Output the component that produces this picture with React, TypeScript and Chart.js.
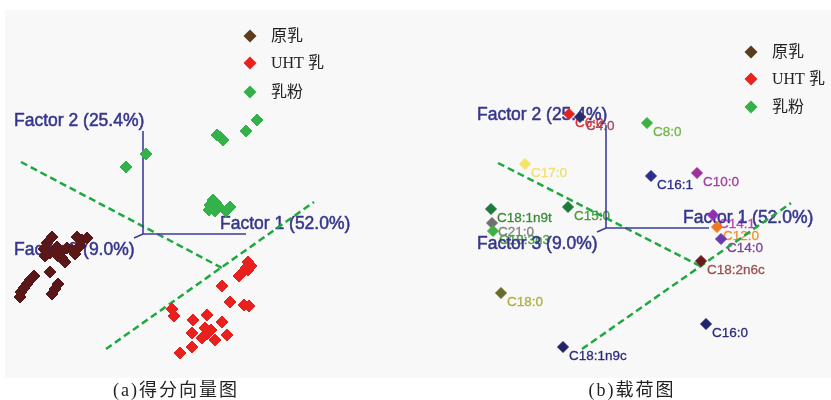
import React, { useEffect, useRef } from 'react';
import { Chart, registerables } from 'chart.js';

Chart.register(...registerables);

type P = [number, number];

// ---------- (a) score plot ----------
const rawMilk: P[] = [
  [-0.91, -0.03], [-0.96, -0.09], [-0.99, -0.15], [-0.93, -0.19], [-0.86, -0.13],
  [-0.82, -0.18], [-0.76, -0.14], [-0.85, -0.22], [-0.66, -0.03], [-0.61, -0.06],
  [-0.56, -0.04], [-0.63, -0.12], [-0.71, -0.16], [-0.68, -0.2], [-0.78, -0.28],
  [-0.93, -0.38], [-1.09, -0.42], [-1.13, -0.46], [-1.16, -0.5], [-1.19, -0.54],
  [-1.22, -0.58], [-1.23, -0.63], [-0.85, -0.5], [-0.88, -0.55], [-0.91, -0.6],
  [-0.81, -0.24], [-0.98, -0.22],
];
const uhtMilk: P[] = [
  [1.05, -0.28], [1.08, -0.32], [1.03, -0.34], [1.0, -0.38], [0.96, -0.42],
  [1.05, -0.36], [0.79, -0.52], [0.87, -0.68], [1.01, -0.71], [1.06, -0.72],
  [0.29, -0.75], [0.31, -0.82], [0.5, -0.86], [0.64, -0.81], [0.79, -0.88],
  [0.62, -0.94], [0.49, -0.99], [0.64, -1.0], [0.59, -1.04], [0.72, -1.06],
  [0.84, -1.01], [0.49, -1.13], [0.37, -1.19], [0.68, -0.96],
];
const milkPowder: P[] = [
  [1.14, 1.14], [1.03, 1.03], [0.74, 0.99], [0.77, 0.97], [0.8, 0.94],
  [0.03, 0.8], [-0.17, 0.67], [0.7, 0.34], [0.67, 0.29], [0.73, 0.31],
  [0.69, 0.26], [0.72, 0.23], [0.76, 0.27], [0.87, 0.27], [0.83, 0.23], [0.66, 0.24],
];
const scoreColors = ['#5a1717', '#e8201e', '#35b14a'];
const scoreDividerA: P[] = [[-1.22, 0.72], [0.79, -0.34]];
const scoreDividerB: P[] = [[-0.37, -1.15], [1.71, 0.32]];
const scoreXRange: P = [-1.38, 2.72];
const scoreYRange: P = [-1.44, 2.24];

// ---------- (b) loading plot ----------
const loadingNames = [
  'C6:0', 'C4:0', 'C8:0', 'C17:0', 'C16:1', 'C10:0', 'C18:1n9t', 'C15:0', 'C21:0',
  'C18:3n3', 'C14:1', 'C12:0', 'C14:0', 'C18:2n6c', 'C18:0', 'C16:0', 'C18:1n9c',
];
const loadingPoints: P[] = [
  [-0.37, 1.14], [-0.26, 1.11], [0.41, 1.05], [-0.81, 0.64], [0.45, 0.52], [0.91, 0.55],
  [-1.15, 0.19], [-0.38, 0.21], [-1.14, 0.05], [-1.13, -0.03], [1.07, 0.13], [1.11, 0.01],
  [1.15, -0.11], [0.95, -0.33], [-1.05, -0.65], [1.0, -0.96], [-0.43, -1.19],
];
const loadingColors = [
  '#e02424', '#2a2a6e', '#3cb043', '#f4e463', '#2c2c8c', '#a0309a', '#1e7a3a', '#1e7a3a',
  '#707070', '#3cb043', '#9030b0', '#f07820', '#6a3aaa', '#6a1a1a', '#6a6a2a', '#22226a', '#22226a',
];
const loadingLabelColors = [
  '#e03030', '#9a4a5a', '#6cba46', '#f0e070', '#2c2c8c', '#a040a0', '#3a8a3a', '#4a9a3a',
  '#808080', '#4aa040', '#c040c0', '#f09030', '#8040a0', '#9a5050', '#b0b040', '#2c2c7c', '#2c2c7c',
];
const loadingDividerA: P[] = [[-1.08, 0.65], [0.94, -0.38]];
const loadingDividerB: P[] = [[-0.24, -1.21], [1.85, 0.25]];
const loadingXRange: P = [-1.91, 2.25];
const loadingYRange: P = [-1.5, 2.18];

// ---------- shared ----------
const factorNames = ['Factor 1 (52.0%)', 'Factor 2 (25.4%)', 'Factor 3 (9.0%)'];
const factorAxisEnds: P[] = [[1.03, 0], [0, 1.03], [-0.09, -0.04]];
const factorLabelAnchors: P[] = [[0.77, 0.1], [-1.29, 1.13], [-1.29, -0.16]];
const legendLabels = ['原乳', 'UHT 乳', '乳粉'];
const legendColors = ['#5b3d1c', '#e8221f', '#33b04a'];
const captions = ['(a)得分向量图', '(b)载荷图'];

const toXY = (pts: P[]) => pts.map(([x, y]) => ({ x, y }));

interface PanelCfg {
  datasets: any[];
  xRange: P;
  yRange: P;
  padLeft: number;
  legendX: number;
  legendYs: number[];
  pointLabels?: { names: string[]; pts: P[]; colors: string[] };
}

function lineDatasets(dividers: P[][]) {
  const ds: any[] = dividers.map((d) => ({
    data: toXY(d),
    showLine: true,
    borderColor: '#1fa840',
    borderWidth: 2.5,
    borderDash: [7, 4],
    pointRadius: 0,
    order: 3,
  }));
  factorAxisEnds.forEach((e) => {
    ds.push({
      data: toXY([[0, 0], e]),
      showLine: true,
      borderColor: '#3d3d9e',
      borderWidth: 1.6,
      pointRadius: 0,
      order: 2,
    });
  });
  return ds;
}

function makePlugin(cfg: PanelCfg) {
  return {
    id: 'panelDecor',
    beforeDraw(chart: any) {
      const { ctx, chartArea: a } = chart;
      ctx.save();
      ctx.fillStyle = '#f8f8f8';
      ctx.fillRect(a.left, a.top, a.right - a.left, a.bottom - a.top);
      ctx.restore();
    },
    beforeDatasetsDraw(chart: any) {
      const { ctx } = chart;
      const xs = chart.scales.x;
      const ys = chart.scales.y;
      ctx.save();
      ctx.textAlign = 'left';
      ctx.textBaseline = 'middle';
      ctx.lineJoin = 'round';
      if (cfg.pointLabels) {
        ctx.font = '13.5px "Liberation Sans", Arial, sans-serif';
        ctx.lineWidth = 0.3;
        cfg.pointLabels.names.forEach((n, i) => {
          const [x, y] = cfg.pointLabels!.pts[i];
          const px = xs.getPixelForValue(x) + 6;
          const py = ys.getPixelForValue(y) + 9;
          ctx.fillStyle = cfg.pointLabels!.colors[i];
          ctx.strokeStyle = cfg.pointLabels!.colors[i];
          ctx.fillText(n, px, py);
          ctx.strokeText(n, px, py);
        });
      }
      ctx.font = '17.5px "Liberation Sans", Arial, sans-serif';
      ctx.fillStyle = '#36368c';
      ctx.strokeStyle = '#36368c';
      ctx.lineWidth = 0.5;
      factorNames.forEach((n, i) => {
        const [x, y] = factorLabelAnchors[i];
        const px = xs.getPixelForValue(x);
        const py = ys.getPixelForValue(y);
        ctx.fillText(n, px, py);
        ctx.strokeText(n, px, py);
      });
      ctx.restore();
    },
    afterDatasetsDraw(chart: any) {
      const { ctx, chartArea: a } = chart;
      ctx.save();
      ctx.textAlign = 'left';
      ctx.textBaseline = 'middle';
      ctx.font = '16px "Liberation Serif", "Noto Sans CJK SC", serif';
      legendLabels.forEach((l, i) => {
        const cx = a.left + cfg.legendX;
        const cy = cfg.legendYs[i];
        const r = 6.5;
        ctx.fillStyle = legendColors[i];
        ctx.beginPath();
        ctx.moveTo(cx, cy - r);
        ctx.lineTo(cx + r, cy);
        ctx.lineTo(cx, cy + r);
        ctx.lineTo(cx - r, cy);
        ctx.closePath();
        ctx.fill();
        ctx.fillStyle = '#222';
        ctx.fillText(l, cx + 21, cy + 1);
      });
      ctx.restore();
    },
  };
}

function Panel({ cfg, width, left }: { cfg: PanelCfg; width: number; left: number }) {
  const ref = useRef<HTMLCanvasElement>(null);
  useEffect(() => {
    if (!ref.current) return;
    const chart = new Chart(ref.current, {
      type: 'scatter',
      data: { datasets: cfg.datasets },
      options: {
        responsive: false,
        animation: false,
        layout: { autoPadding: false, padding: { left: cfg.padLeft, top: 10, right: 0, bottom: 22 } },
        scales: {
          x: { type: 'linear', min: cfg.xRange[0], max: cfg.xRange[1], display: false },
          y: { type: 'linear', min: cfg.yRange[0], max: cfg.yRange[1], display: false },
        },
        plugins: { legend: { display: false }, tooltip: { enabled: false } },
        events: [],
      },
      plugins: [makePlugin(cfg)],
    } as any);
    return () => chart.destroy();
  }, []);
  return (
    <canvas
      ref={ref}
      width={width}
      height={400}
      style={{ position: 'absolute', left, top: 0, width, height: 400 }}
    />
  );
}

const diamond = (data: P[], color: string) => ({
  data: toXY(data),
  pointStyle: 'rectRot',
  pointRadius: 6,
  backgroundColor: color,
  borderColor: color,
  borderWidth: 1,
  showLine: false,
  order: 1,
});

export default function App() {
  const scoreCfg: PanelCfg = {
    datasets: [
      ...lineDatasets([scoreDividerA, scoreDividerB]),
      diamond(rawMilk, scoreColors[0]),
      diamond(uhtMilk, scoreColors[1]),
      diamond(milkPowder, scoreColors[2]),
    ],
    xRange: scoreXRange,
    yRange: scoreYRange,
    padLeft: 5,
    legendX: 245,
    legendYs: [36, 63, 92],
  };
  const loadingCfg: PanelCfg = {
    datasets: [
      ...lineDatasets([loadingDividerA, loadingDividerB]),
      {
        data: toXY(loadingPoints),
        pointStyle: 'rectRot',
        pointRadius: 5.5,
        backgroundColor: loadingColors,
        borderColor: loadingColors,
        borderWidth: 1,
        showLine: false,
        order: 1,
      },
    ],
    xRange: loadingXRange,
    yRange: loadingYRange,
    padLeft: 0,
    legendX: 336,
    legendYs: [52, 79, 107],
    pointLabels: { names: loadingNames, pts: loadingPoints, colors: loadingLabelColors },
  };
  const capStyle: React.CSSProperties = {
    position: 'absolute',
    top: 378,
    height: 24,
    lineHeight: '24px',
    fontFamily: '"Liberation Serif", "Noto Sans CJK SC", serif',
    fontSize: 18,
    letterSpacing: 2,
    color: '#222',
    textAlign: 'center',
    whiteSpace: 'nowrap',
  };
  return (
    <div style={{ position: 'absolute', left: 0, top: 0, width: 831, height: 400, background: '#fff', overflow: 'hidden' }}>
      <Panel cfg={scoreCfg} width={415} left={0} />
      <Panel cfg={loadingCfg} width={416} left={415} />
      <div style={{ ...capStyle, left: 76, width: 200 }}>{captions[0]}</div>
      <div style={{ ...capStyle, left: 532, width: 200 }}>{captions[1]}</div>
    </div>
  );
}
